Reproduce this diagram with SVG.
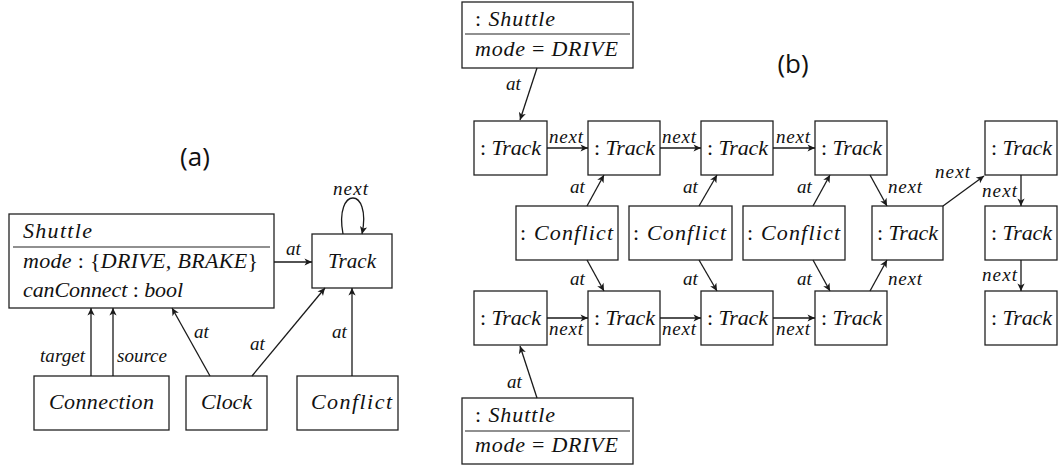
<svg xmlns="http://www.w3.org/2000/svg" width="1059" height="468" viewBox="0 0 1059 468">
  <defs>
    <marker id="arr" markerWidth="10" markerHeight="10" viewBox="-8 -5 10 10" refX="0" refY="0" orient="auto" markerUnits="userSpaceOnUse">
      <path d="M0,0 L-7.5,-3.6 L-5.5,0 L-7.5,3.6 Z" fill="#1a1a1a"/>
    </marker>
    <style>
      .box { fill: #fff; stroke: #222; stroke-width: 1.3; }
      .sep { stroke: #222; stroke-width: 1.2; }
      .t { font-family: "Liberation Serif", "DejaVu Serif", "Times New Roman", serif; font-style: italic; font-size: 22px; fill: #111; }
      .m { text-anchor: middle; }
      .up { font-style: normal; }
      .lbl { font-family: "Liberation Serif", "DejaVu Serif", "Times New Roman", serif; font-style: italic; font-size: 19px; fill: #111; }
      .cap { font-family: "Open Sans", "Noto Sans", sans-serif; font-size: 26px; fill: #111; text-anchor: middle; }
      .e { fill: none; stroke: #1a1a1a; stroke-width: 1.3; marker-end: url(#arr); }
    </style>
  </defs>
  <rect width="1059" height="468" fill="#fff"/>

  <!-- (a) class diagram -->
  <text class="cap" x="195" y="166">(a)</text>

  <g id="a-shuttle">
    <rect class="box" x="9" y="214" width="265" height="94"/>
    <line class="sep" x1="13" y1="247" x2="270" y2="247"/>
    <text class="t" x="23" y="238" textLength="69">Shuttle</text>
    <text class="t" x="23" y="268" textLength="235">mode <tspan class="up">: {</tspan>DRIVE, BRAKE<tspan class="up">}</tspan></text>
    <text class="t" x="23" y="297" textLength="160">canConnect <tspan class="up">:</tspan> bool</text>
  </g>
  <g id="a-track">
    <rect class="box" x="312" y="234" width="80" height="54"/>
    <text class="t" x="328" y="268" textLength="48" lengthAdjust="spacingAndGlyphs">Track</text>
  </g>
  <g id="a-connection">
    <rect class="box" x="34" y="376" width="135" height="54"/>
    <text class="t" x="49" y="409" textLength="105">Connection</text>
  </g>
  <g id="a-clock">
    <rect class="box" x="186" y="376" width="81" height="54"/>
    <text class="t" x="201" y="409" textLength="51">Clock</text>
  </g>
  <g id="a-conflict">
    <rect class="box" x="297" y="376" width="101" height="54"/>
    <text class="t" x="311" y="409" textLength="81">Conflict</text>
  </g>

  <g id="a-edges">
    <line class="e" x1="274" y1="262" x2="312" y2="262"/>
    <text class="lbl" x="286" y="255">at</text>
    <path class="e" d="M343,234 C334,186 372,186 362,234"/>
    <text class="lbl" x="333" y="195" textLength="35">next</text>
    <line class="e" x1="91" y1="376" x2="91" y2="308"/>
    <text class="lbl" x="40" y="362" textLength="45">target</text>
    <line class="e" x1="113" y1="376" x2="113" y2="308"/>
    <text class="lbl" x="117" y="362" textLength="50">source</text>
    <line class="e" x1="210" y1="376" x2="172" y2="308"/>
    <text class="lbl" x="194" y="338">at</text>
    <line class="e" x1="252" y1="376" x2="325" y2="288"/>
    <text class="lbl" x="250" y="350">at</text>
    <line class="e" x1="352" y1="376" x2="352" y2="288"/>
    <text class="lbl" x="332" y="338">at</text>
  </g>

  <!-- (b) object diagram -->
  <text class="cap" x="793" y="73">(b)</text>

  <g id="b-shuttle-top">
    <rect class="box" x="462" y="2" width="171" height="66"/>
    <line class="sep" x1="465" y1="34" x2="630" y2="34"/>
    <text class="t" x="475" y="26" textLength="80"><tspan class="up">:</tspan> Shuttle</text>
    <text class="t" x="475" y="56" textLength="143">mode <tspan class="up">=</tspan> DRIVE</text>
  </g>
  <g id="b-shuttle-bottom">
    <rect class="box" x="462" y="398" width="171" height="66"/>
    <line class="sep" x1="465" y1="431" x2="630" y2="431"/>
    <text class="t" x="475" y="422" textLength="80"><tspan class="up">:</tspan> Shuttle</text>
    <text class="t" x="475" y="452" textLength="143">mode <tspan class="up">=</tspan> DRIVE</text>
  </g>

  <g id="b-t1"><rect class="box" x="474" y="121" width="73" height="54"/><text class="t" x="480" y="155" textLength="61"><tspan class="up">:</tspan> Track</text></g>
  <g id="b-t2"><rect class="box" x="588" y="121" width="72" height="54"/><text class="t" x="594" y="155" textLength="61"><tspan class="up">:</tspan> Track</text></g>
  <g id="b-t3"><rect class="box" x="701" y="121" width="72" height="54"/><text class="t" x="707" y="155" textLength="61"><tspan class="up">:</tspan> Track</text></g>
  <g id="b-t4"><rect class="box" x="815" y="121" width="72" height="54"/><text class="t" x="821" y="155" textLength="61"><tspan class="up">:</tspan> Track</text></g>
  <g id="b-r1"><rect class="box" x="985" y="121" width="72" height="54"/><text class="t" x="991" y="155" textLength="61"><tspan class="up">:</tspan> Track</text></g>

  <g id="b-c1"><rect class="box" x="516" y="206" width="102" height="54"/><text class="t" x="520" y="240" textLength="93"><tspan class="up">:</tspan> Conflict</text></g>
  <g id="b-c2"><rect class="box" x="629" y="206" width="103" height="54"/><text class="t" x="633" y="240" textLength="93"><tspan class="up">:</tspan> Conflict</text></g>
  <g id="b-c3"><rect class="box" x="743" y="206" width="102" height="54"/><text class="t" x="747" y="240" textLength="93"><tspan class="up">:</tspan> Conflict</text></g>
  <g id="b-mid"><rect class="box" x="872" y="206" width="71" height="54"/><text class="t" x="877" y="240" textLength="61"><tspan class="up">:</tspan> Track</text></g>
  <g id="b-r2"><rect class="box" x="985" y="206" width="72" height="54"/><text class="t" x="991" y="240" textLength="61"><tspan class="up">:</tspan> Track</text></g>

  <g id="b-b1"><rect class="box" x="474" y="291" width="73" height="54"/><text class="t" x="480" y="325" textLength="61"><tspan class="up">:</tspan> Track</text></g>
  <g id="b-b2"><rect class="box" x="588" y="291" width="72" height="54"/><text class="t" x="594" y="325" textLength="61"><tspan class="up">:</tspan> Track</text></g>
  <g id="b-b3"><rect class="box" x="701" y="291" width="72" height="54"/><text class="t" x="707" y="325" textLength="61"><tspan class="up">:</tspan> Track</text></g>
  <g id="b-b4"><rect class="box" x="815" y="291" width="72" height="54"/><text class="t" x="821" y="325" textLength="61"><tspan class="up">:</tspan> Track</text></g>
  <g id="b-r3"><rect class="box" x="985" y="291" width="72" height="54"/><text class="t" x="991" y="325" textLength="61"><tspan class="up">:</tspan> Track</text></g>

  <g id="b-edges">
    <!-- shuttles -->
    <line class="e" x1="537" y1="68" x2="520" y2="120"/>
    <text class="lbl" x="506" y="90">at</text>
    <line class="e" x1="537" y1="398" x2="520" y2="346"/>
    <text class="lbl" x="507" y="388">at</text>

    <!-- upper chain -->
    <line class="e" x1="547" y1="148" x2="588" y2="148"/>
    <text class="lbl" x="549" y="143" textLength="34">next</text>
    <line class="e" x1="660" y1="148" x2="701" y2="148"/>
    <text class="lbl" x="662" y="143" textLength="34">next</text>
    <line class="e" x1="773" y1="148" x2="815" y2="148"/>
    <text class="lbl" x="776" y="143" textLength="34">next</text>

    <!-- lower chain -->
    <line class="e" x1="547" y1="318" x2="588" y2="318"/>
    <text class="lbl" x="549" y="335" textLength="34">next</text>
    <line class="e" x1="660" y1="318" x2="701" y2="318"/>
    <text class="lbl" x="662" y="335" textLength="34">next</text>
    <line class="e" x1="773" y1="318" x2="815" y2="318"/>
    <text class="lbl" x="776" y="335" textLength="34">next</text>

    <!-- conflicts -->
    <line class="e" x1="587" y1="206" x2="604" y2="175"/>
    <text class="lbl" x="570" y="193">at</text>
    <line class="e" x1="587" y1="260" x2="604" y2="291"/>
    <text class="lbl" x="570" y="285">at</text>
    <line class="e" x1="699" y1="206" x2="717" y2="175"/>
    <text class="lbl" x="683" y="193">at</text>
    <line class="e" x1="699" y1="260" x2="717" y2="291"/>
    <text class="lbl" x="683" y="285">at</text>
    <line class="e" x1="813" y1="206" x2="830" y2="175"/>
    <text class="lbl" x="797" y="193">at</text>
    <line class="e" x1="813" y1="260" x2="830" y2="291"/>
    <text class="lbl" x="797" y="285">at</text>

    <!-- merge into middle track -->
    <line class="e" x1="870" y1="175" x2="887" y2="206"/>
    <text class="lbl" x="888" y="193" textLength="34">next</text>
    <line class="e" x1="870" y1="291" x2="887" y2="260"/>
    <text class="lbl" x="888" y="285" textLength="34">next</text>
    <line class="e" x1="943" y1="206" x2="984" y2="176"/>
    <text class="lbl" x="935" y="178" textLength="35">next</text>

    <!-- right column -->
    <line class="e" x1="1021" y1="175" x2="1021" y2="206"/>
    <text class="lbl" x="982" y="197" textLength="35">next</text>
    <line class="e" x1="1021" y1="260" x2="1021" y2="291"/>
    <text class="lbl" x="982" y="281" textLength="35">next</text>
  </g>
</svg>
